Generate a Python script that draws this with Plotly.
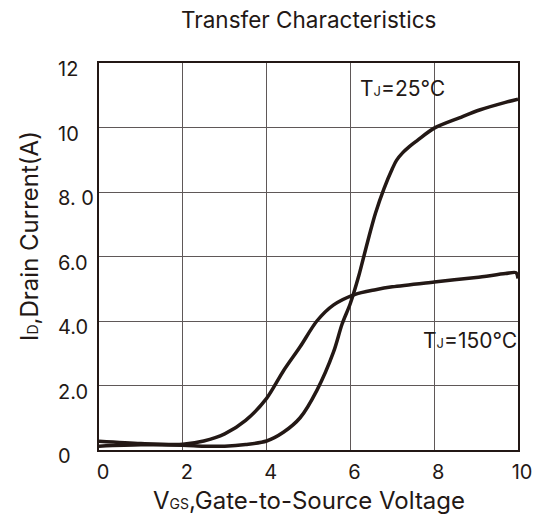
import plotly.graph_objects as go

# Data
vgs_25 = [0, 1, 2, 2.5, 3, 3.5, 4, 4.4, 4.8, 5.2, 5.6, 5.8, 6.0, 6.2, 6.3, 6.45, 6.6, 6.8, 7.0, 7.1, 7.25, 7.4, 7.6, 8.0, 8.6, 9.1, 9.7, 10]
id_25 = [0.12, 0.16, 0.15, 0.12, 0.12, 0.17, 0.28, 0.55, 1.0, 1.85, 3.05, 3.9, 4.55, 5.4, 5.9, 6.65, 7.35, 8.1, 8.72, 8.98, 9.22, 9.4, 9.6, 9.98, 10.3, 10.55, 10.78, 10.88]

vgs_150 = [0, 1, 2, 2.5, 3, 3.5, 4, 4.4, 4.8, 5.2, 5.6, 6.1, 6.6, 7.0, 8.0, 9.0, 9.7, 9.95, 10]
id_150 = [0.27, 0.2, 0.18, 0.28, 0.5, 0.92, 1.6, 2.45, 3.2, 4.0, 4.5, 4.82, 4.97, 5.06, 5.21, 5.35, 5.47, 5.5, 5.32]

x_ticks = [0, 2, 4, 6, 8, 10]
y_ticks = [0, 2, 4, 6, 8, 10, 12]
y_ticktext = ["0", "2.0", "4.0", "6.0", "8. 0", "10", "12"]

title_text = "Transfer Characteristics"
x_title = "V<span style='font-size:14px'>GS</span>,Gate-to-Source Voltage"
y_title = "I<span style='font-size:14px'>D</span>,Drain Current(A)"
label_25 = "T<span style='font-size:13px'>J</span>=25℃"
label_150 = "T<span style='font-size:13px'>J</span>=150℃"

FONT = "Inter, Liberation Sans, Arial, sans-serif"
INK = "#231815"
GRID = "#5f5858"

fig = go.Figure()
fig.add_trace(go.Scatter(x=vgs_25, y=id_25, mode="lines",
                         line=dict(color=INK, width=3.5, shape="spline", smoothing=0.9),
                         showlegend=False, hoverinfo="skip"))
fig.add_trace(go.Scatter(x=vgs_150, y=id_150, mode="lines",
                         line=dict(color=INK, width=3.5, shape="spline", smoothing=0.8),
                         showlegend=False, hoverinfo="skip"))

annotations = [
    dict(text=title_text, xref="paper", yref="paper", x=0.5, y=1.0,
         yshift=44, xanchor="center", yanchor="middle", showarrow=False,
         font=dict(size=22.5, family=FONT, color=INK)),
    dict(text=x_title, xref="paper", yref="paper", x=0.5, y=0,
         yshift=-50, xanchor="center", yanchor="middle", showarrow=False,
         font=dict(size=24, family=FONT, color=INK)),
    dict(text=y_title, xref="paper", yref="paper", x=0, y=0.553,
         xshift=-69, xanchor="center", yanchor="middle", showarrow=False,
         textangle=-90, font=dict(size=24, family=FONT, color=INK)),
    dict(text=label_25, xref="x", yref="y", x=6.17, y=11.22,
         xanchor="left", yanchor="middle", showarrow=False,
         font=dict(size=21, family=FONT, color=INK)),
    dict(text=label_150, xref="x", yref="y", x=7.68, y=3.39,
         xanchor="left", yanchor="middle", showarrow=False,
         font=dict(size=21, family=FONT, color=INK)),
]
# left-aligned y tick labels, as in the reference
for v, t in zip(y_ticks, y_ticktext):
    annotations.append(dict(text=t, xref="paper", yref="y", x=0, y=v,
                            xshift=-43, yshift=-6, xanchor="left", yanchor="middle",
                            showarrow=False, font=dict(size=20, family=FONT, color=INK)))

fig.update_layout(
    width=544, height=519,
    margin=dict(l=99, r=21, t=63, b=69),
    paper_bgcolor="white", plot_bgcolor="white",
    font=dict(family=FONT, color=INK, size=20),
    showlegend=False,
    annotations=annotations,
)

fig.update_xaxes(range=[0, 10], tickvals=x_ticks, showgrid=True,
                 gridcolor=GRID, gridwidth=1, zeroline=False,
                 showline=True, linecolor=INK, linewidth=1.5, mirror=True,
                 ticks="", ticklabelstandoff=3, ticklabelshift=4,
                 tickfont=dict(size=20, family=FONT, color=INK))
fig.update_yaxes(range=[0, 12], tickvals=y_ticks, showticklabels=False, showgrid=True,
                 gridcolor=GRID, gridwidth=1, zeroline=False,
                 showline=True, linecolor=INK, linewidth=1.5, mirror=True,
                 ticks="")

fig.write_html("out.html", config={"displayModeBar": False},
               post_script="document.body.style.margin='0';document.body.style.overflow='hidden';")
